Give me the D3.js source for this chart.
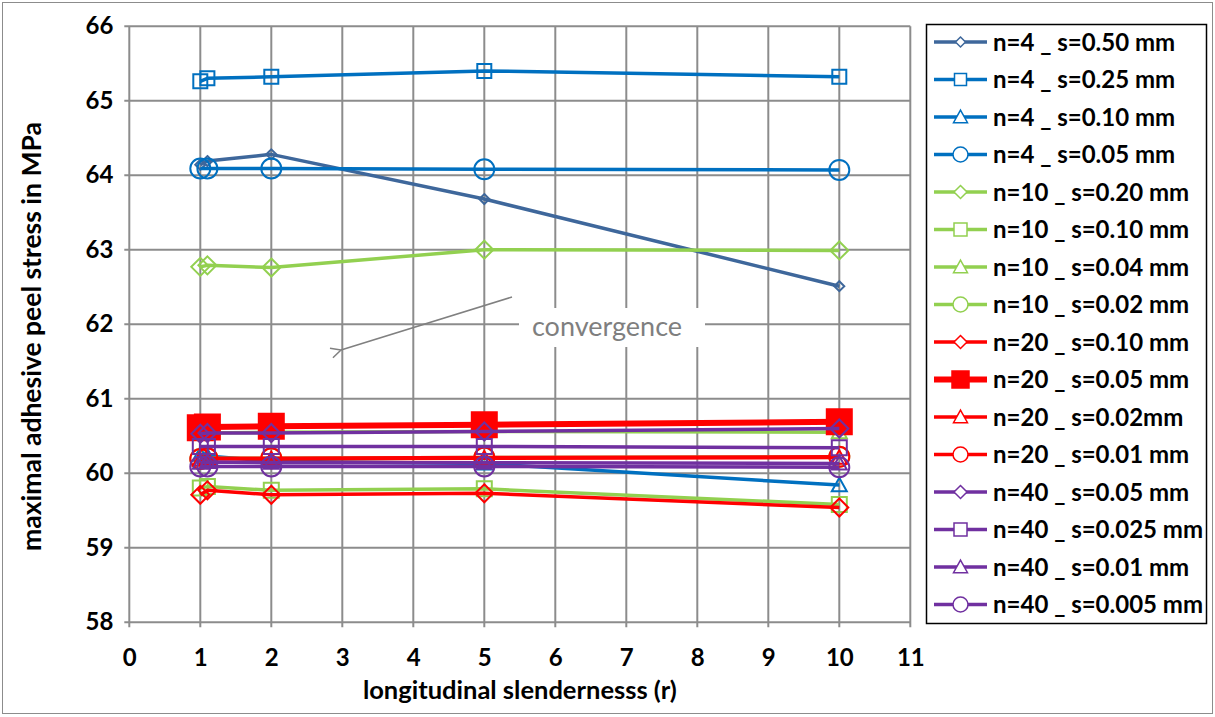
<!DOCTYPE html>
<html><head><meta charset="utf-8">
<script src="https://cdn.jsdelivr.net/npm/d3@7"></script>
<style>
html,body{margin:0;padding:0;background:#fff;}
svg{display:block;}
text{font-family:Lato,"Open Sans",sans-serif;}
</style></head>
<body>
<svg id="c" width="1215" height="717"></svg>
<script>
const xValues = [1, 1.1, 2, 5, 10];
const seriesNames = [
  "n=4 _ s=0.50 mm","n=4 _ s=0.25 mm","n=4 _ s=0.10 mm","n=4 _ s=0.05 mm",
  "n=10 _ s=0.20 mm","n=10 _ s=0.10 mm","n=10 _ s=0.04 mm","n=10 _ s=0.02 mm",
  "n=20 _ s=0.10 mm","n=20 _ s=0.05 mm","n=20 _ s=0.02mm","n=20 _ s=0.01 mm",
  "n=40 _ s=0.05 mm","n=40 _ s=0.025 mm","n=40 _ s=0.01 mm","n=40 _ s=0.005 mm"
];
const n4_s050 = [64.14, 64.19, 64.28, 63.68, 62.51];
const n4_s025 = [65.26, 65.30, 65.32, 65.40, 65.32];
const n4_s010 = [60.25, 60.23, 60.16, 60.13, 59.84];
const n4_s005 = [64.09, 64.09, 64.09, 64.08, 64.07];
const n10_s020 = [62.77, 62.79, 62.76, 63.00, 62.99];
const n10_s010 = [59.80, 59.82, 59.77, 59.79, 59.58];
const n10_s004 = [60.53, 60.54, 60.55, 60.56, 60.55];
const n10_s002 = [60.19, 60.20, 60.20, 60.21, 60.22];
const n20_s010 = [59.71, 59.77, 59.71, 59.73, 59.54];
const n20_s005 = [60.61, 60.62, 60.63, 60.65, 60.69];
const n20_s002 = [60.18, 60.19, 60.19, 60.20, 60.21];
const n20_s001 = [60.19, 60.20, 60.20, 60.21, 60.22];
const n40_s005 = [60.53, 60.54, 60.54, 60.56, 60.60];
const n40_s0025 = [60.36, 60.36, 60.36, 60.36, 60.34];
const n40_s001 = [60.14, 60.15, 60.14, 60.14, 60.13];
const n40_s0005 = [60.09, 60.09, 60.09, 60.09, 60.08];
const seriesValues = [n4_s050,n4_s025,n4_s010,n4_s005,n10_s020,n10_s010,n10_s004,n10_s002,
  n20_s010,n20_s005,n20_s002,n20_s001,n40_s005,n40_s0025,n40_s001,n40_s0005];
const xTicks = [0,1,2,3,4,5,6,7,8,9,10,11];
const yTicks = [58,59,60,61,62,63,64,65,66];
const xTitle = "longitudinal slendernesss (r)";
const yTitle = "maximal adhesive peel stress in MPa";
const annotation = "convergence";

// styles (not data)
const colors = ["#3E679B","#0070C0","#0070C0","#0070C0","#92D050","#92D050","#92D050","#92D050",
  "#FF0000","#FF0000","#FF0000","#FF0000","#7030A0","#7030A0","#7030A0","#7030A0"];
const shapes = ["diamond","square","triangle","circle","diamond","square","triangle","circle",
  "diamond","filledsquare","triangle","circle","diamond","square","triangle","circle"];
const plotSizes = [10,14,15,20,18,15,15,20,18,25,15,20,18,15,15,20];
const legSizes = [10,12,14,15,13,13,14,15,13,17,14,15,13,13,14,15];
const lineW = [3.5,3.5,3.5,3.5,3.5,3.5,3.5,3.5,3.5,6,3.5,3.5,3.5,3.5,3.5,3.5];

function markerPath(shape, s){
  const h = s/2;
  if (shape==="diamond") return `M0,${-h}L${h},0L0,${h}L${-h},0Z`;
  if (shape==="square"||shape==="filledsquare") return `M${-h},${-h}H${h}V${h}H${-h}Z`;
  if (shape==="triangle") { const th = s*0.9; return `M0,${-th*0.55}L${h},${th*0.45}L${-h},${th*0.45}Z`; }
  return `M${h},0A${h},${h} 0 1,1 ${-h},0A${h},${h} 0 1,1 ${h},0Z`;
}

const svg = d3.select("#c");
svg.append("rect").attr("x",2.5).attr("y",2.5).attr("width",1210).attr("height",711)
  .attr("fill","#fff").attr("stroke","#8c8c8c").attr("stroke-width",1);

const x = d3.scaleLinear().domain([0,11]).range([129.3,910.3]);
const y = d3.scaleLinear().domain([58,66]).range([622.2,26.2]);
const grid = "#8c8c8c";

// gridlines
const g = svg.append("g");
g.selectAll(".vg").data(xTicks).join("line").attr("x1",d=>x(d)).attr("x2",d=>x(d))
  .attr("y1",y(66)).attr("y2",y(58)+5).attr("stroke",grid).attr("stroke-width",2);
g.selectAll(".hg").data(yTicks).join("line").attr("y1",d=>y(d)).attr("y2",d=>y(d))
  .attr("x1",x(0)-5).attr("x2",x(11)).attr("stroke",grid).attr("stroke-width",2);

// axes labels
const xa = d3.axisBottom(x).tickValues(xTicks).tickSize(0).tickPadding(27);
const xg = svg.append("g").attr("transform",`translate(0,${y(58)})`).call(xa);
xg.select(".domain").remove();
xg.selectAll("text").attr("font-size",24).attr("font-weight","bold").attr("fill","#000")
  .attr("font-family","Lato");
const ya = d3.axisLeft(y).tickValues(yTicks).tickSize(0).tickPadding(16);
const yg = svg.append("g").attr("transform",`translate(${x(0)},0)`).call(ya);
yg.select(".domain").remove();
yg.selectAll("text").attr("font-size",24).attr("font-weight","bold").attr("fill","#000")
  .attr("font-family","Lato");

svg.append("text").attr("x",(x(0)+x(11))/2).attr("y",699).attr("text-anchor","middle")
  .attr("font-size",25.5).attr("font-weight","bold").text(xTitle);
svg.append("text").attr("transform",`translate(41,336.5) rotate(-90)`)
  .attr("text-anchor","middle").attr("font-size",26.5).attr("font-weight","bold").text(yTitle);

// annotation arrow
svg.append("defs").append("marker").attr("id","arr").attr("viewBox","0 0 12 12")
  .attr("refX",1).attr("refY",6).attr("markerWidth",12).attr("markerHeight",12)
  .attr("markerUnits","userSpaceOnUse").attr("orient","auto-start-reverse")
  .append("path").attr("d","M11,1L1,6L11,11").attr("fill","none").attr("stroke","#808080").attr("stroke-width",1.5);
svg.append("line").attr("x1",512).attr("y1",297).attr("x2",341).attr("y2",350)
  .attr("stroke","#808080").attr("stroke-width",1.5).attr("marker-end","url(#arr)");
svg.append("rect").attr("x",519).attr("y",308).attr("width",186).attr("height",39).attr("fill","#fff");
svg.append("text").attr("x",607).attr("y",336).attr("text-anchor","middle").attr("font-size",27)
  .attr("fill","#7f7f7f").text(annotation);

// series
const line = d3.line().x(d=>x(d[0])).y(d=>y(d[1]));
seriesValues.forEach((vals,i)=>{
  const pts = xValues.map((xv,j)=>[xv,vals[j]]);
  const sg = svg.append("g");
  sg.append("path").attr("d",line(pts)).attr("fill","none").attr("stroke",colors[i])
    .attr("stroke-width",lineW[i]).attr("stroke-linejoin","round");
  sg.selectAll("path.m").data(pts).join("path").attr("class","m")
    .attr("transform",d=>`translate(${x(d[0])},${y(d[1])})`)
    .attr("d",markerPath(shapes[i],plotSizes[i]))
    .attr("fill",shapes[i]==="filledsquare"?colors[i]:"none")
    .attr("stroke",colors[i]).attr("stroke-width",2);
});

// legend
const lg = svg.append("g");
lg.append("rect").attr("x",926.5).attr("y",24.5).attr("width",280).attr("height",599)
  .attr("fill","#fff").attr("stroke","#000").attr("stroke-width",1.5);
seriesNames.forEach((nm,i)=>{
  const cy = 42 + i*37.5;
  lg.append("line").attr("x1",934).attr("x2",987).attr("y1",cy).attr("y2",cy)
    .attr("stroke",colors[i]).attr("stroke-width",lineW[i]);
  lg.append("path").attr("transform",`translate(960.5,${cy})`).attr("d",markerPath(shapes[i],legSizes[i]))
    .attr("fill",shapes[i]==="filledsquare"?colors[i]:"#fff").attr("stroke",colors[i]).attr("stroke-width",1.5);
  lg.append("text").attr("x",993).attr("y",cy+8.5).attr("font-size",24).attr("font-weight","bold").text(nm);
});
</script>
</body></html>
